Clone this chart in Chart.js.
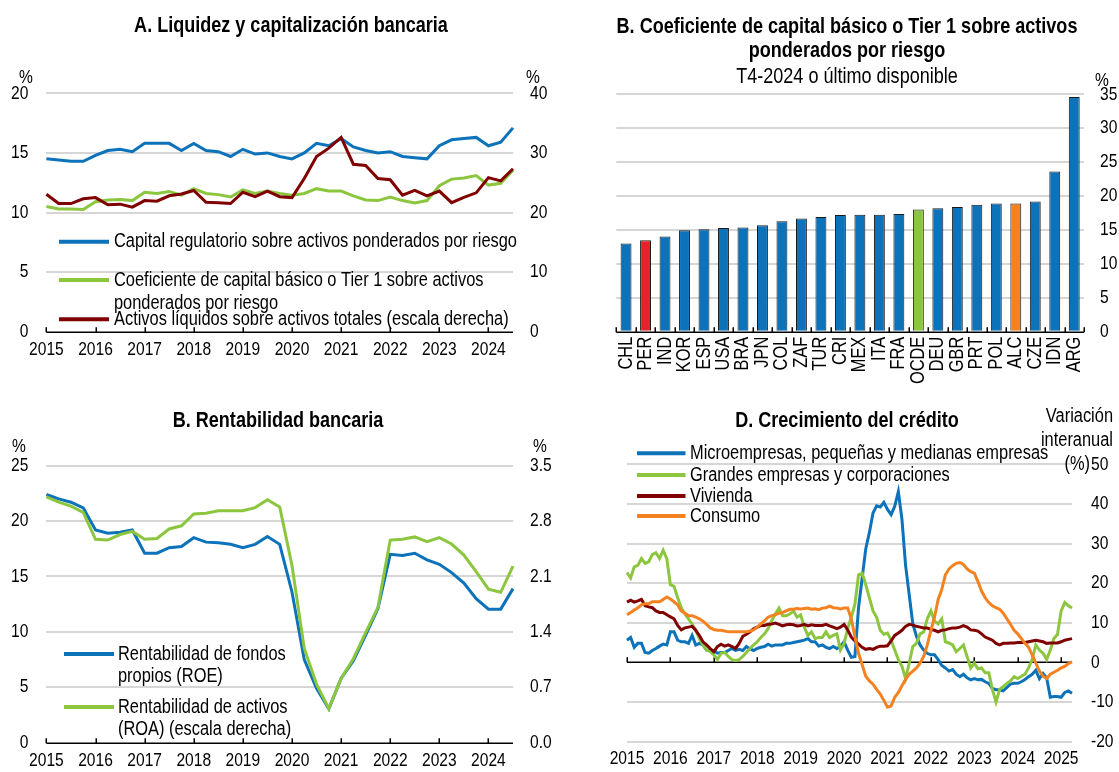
<!DOCTYPE html>
<html><head><meta charset="utf-8">
<script src="https://cdn.jsdelivr.net/npm/chart.js@4.4.1/dist/chart.umd.min.js"></script>
<style>
html,body{margin:0;padding:0;background:#fff;}
body{width:1119px;height:772px;position:relative;overflow:hidden;}
canvas{position:absolute;}
</style></head><body>
<canvas id="cA" width="560" height="386" style="left:0;top:0"></canvas>
<canvas id="cB" width="559" height="386" style="left:560px;top:0"></canvas>
<canvas id="cC" width="560" height="386" style="left:0;top:386px"></canvas>
<canvas id="cD" width="559" height="386" style="left:560px;top:386px"></canvas>
<script>
// ---------- DATA ----------
const years = ['2015','2016','2017','2018','2019','2020','2021','2022','2023','2024'];
const quarters = years.flatMap(y => ['T1','T2','T3','T4'].map(q => q + '-' + y)).slice(0, 39);

// Panel A
const legendA = [
  ['Capital regulatorio sobre activos ponderados por riesgo'],
  ['Coeficiente de capital básico o Tier 1 sobre activos', 'ponderados por riesgo'],
  ['Activos líquidos sobre activos totales (escala derecha)']
];
const capitalReg = [14.5,14.4,14.3,14.3,14.8,15.2,15.3,15.1,15.8,15.8,15.8,15.2,15.8,15.2,15.1,14.7,15.3,14.9,15.0,14.7,14.5,15.0,15.8,15.6,16.2,15.5,15.2,15.0,15.1,14.7,14.6,14.5,15.6,16.1,16.2,16.3,15.6,15.9,17.1];
const tier1 = [10.5,10.3,10.3,10.25,10.9,11.05,11.1,11.0,11.7,11.6,11.75,11.45,12.0,11.6,11.5,11.3,11.9,11.6,11.8,11.6,11.45,11.6,12.0,11.8,11.8,11.4,11.05,11.0,11.3,11.0,10.8,11.0,12.25,12.8,12.9,13.1,12.3,12.45,13.55];
const liquidAssets = [23.05,21.5,21.5,22.3,22.5,21.3,21.4,20.9,22.0,21.9,22.8,23.1,23.7,21.7,21.65,21.5,23.4,22.65,23.6,22.65,22.5,25.7,29.4,30.8,32.6,28.1,27.9,25.7,25.5,22.9,23.7,22.8,23.6,21.65,22.55,23.3,25.85,25.3,27.35];

// Panel B
const countries = ['CHL','PER','IND','KOR','ESP','USA','BRA','JPN','COL','ZAF','TUR','CRI','MEX','ITA','FRA','OCDE','DEU','GBR','PRT','POL','ALC','CZE','IDN','ARG'];
const tier1Country = [13.0,13.5,14.05,14.95,15.1,15.3,15.35,15.7,16.3,16.7,16.9,17.2,17.25,17.25,17.35,18.0,18.2,18.4,18.7,18.9,18.9,19.2,23.6,34.6];

// Panel C
const legendC = [
  ['Rentabilidad de fondos', 'propios (ROE)'],
  ['Rentabilidad de activos', '(ROA) (escala derecha)']
];
const roe = [22.4,22.0,21.7,21.2,19.2,18.9,19.0,19.2,17.1,17.1,17.6,17.7,18.5,18.1,18.05,17.9,17.6,17.9,18.6,17.9,13.6,7.5,4.9,3.05,5.8,7.4,9.7,12.1,17.0,16.9,17.1,16.5,16.1,15.35,14.4,13.0,12.05,12.05,13.9];
const roa = [3.105,3.04,2.99,2.91,2.57,2.56,2.63,2.67,2.57,2.58,2.70,2.74,2.89,2.90,2.93,2.93,2.93,2.97,3.07,2.98,2.24,1.19,0.74,0.43,0.81,1.06,1.39,1.71,2.56,2.57,2.60,2.54,2.59,2.51,2.37,2.16,1.94,1.90,2.23];

// Panel D
const yearsD = years.concat(['2025']);
const months = yearsD.flatMap(y => ['01','02','03','04','05','06','07','08','09','10','11','12'].map(m => y + '-' + m)).slice(0, 124);
const legendD = [
  ['Microempresas, pequeñas y medianas empresas'],
  ['Grandes empresas y corporaciones'],
  ['Vivienda'],
  ['Consumo']
];
const smeCredit = [5.6,6.3,3.8,4.8,4.8,2.5,2.3,3.0,3.5,4.1,4.6,4.4,
7.7,7.7,5.6,5.2,5.2,4.8,6.8,4.4,4.8,4.4,3.1,3.0,
3.0,2.3,2.5,2.5,3.0,3.5,3.0,3.3,3.0,4.0,3.4,3.0,
3.5,3.8,4.0,4.6,4.1,4.4,4.4,4.4,4.8,4.8,5.0,5.2,
5.4,5.6,6.0,5.2,5.2,4.1,4.4,3.8,3.5,4.0,3.5,4.0,
5.2,3.1,1.3,1.5,13.8,21.3,28.7,32.8,37.7,39.5,39.2,40.4,
38.6,37.3,39.4,43.1,36.1,24.5,17.1,9.7,6.6,4.4,3.1,2.3,
1.9,1.9,0.7,-0.8,-1.4,-2.2,-1.8,-3.0,-3.6,-3.0,-3.9,-4.4,
-4.1,-4.4,-4.3,-4.9,-5.3,-6.6,-6.9,-6.9,-7.2,-6.3,-5.5,-5.3,
-5.3,-4.9,-4.3,-3.6,-3.0,-2.0,-4.1,-2.8,-3.9,-8.8,-8.6,-8.6,
-8.8,-7.6,-7.2,-7.8];
const largeCredit = [22.7,21.3,24.1,24.5,26.2,25.0,25.4,27.2,27.7,26.2,28.3,26.2,
19.6,19.2,16.3,13.8,12.2,11.0,9.7,8.1,6.0,4.4,3.1,2.7,
1.9,0.7,2.3,2.5,1.5,0.7,0.5,0.7,1.5,2.5,3.5,4.4,
5.2,6.3,7.2,8.5,10.5,12.2,13.7,11.8,11.8,12.2,13.0,11.4,
12.0,8.9,6.8,7.7,6.0,6.3,6.3,7.7,6.3,6.8,7.2,3.1,
4.8,8.5,11.4,14.7,22.1,22.5,19.6,16.3,13.0,11.4,8.1,7.1,
7.4,5.6,3.1,0.7,-1.0,-4.1,-0.2,4.0,4.8,7.2,7.7,11.0,
13.0,10.4,9.7,11.0,5.2,4.9,4.4,2.7,3.5,4.4,1.5,-1.4,
-0.2,-1.6,-1.4,-2.6,-2.6,-6.8,-10.0,-6.8,-6.1,-5.3,-4.7,-3.6,
-4.1,-3.5,-3.0,-1.4,0.7,4.4,3.1,2.3,0.7,3.1,6.0,7.1,
13.0,15.1,14.3,13.7];
const housingCredit = [15.2,15.7,15.2,15.5,15.9,14.3,14.0,13.8,13.0,12.6,12.6,12.0,
11.5,11.0,9.3,8.2,8.7,8.9,9.1,8.1,6.8,5.2,4.4,3.5,
2.7,4.0,4.6,4.1,4.4,4.0,3.5,4.8,6.6,7.1,7.7,8.5,
8.9,9.3,9.3,9.6,9.7,9.9,9.6,9.2,9.5,9.6,9.5,9.2,
9.3,9.6,9.2,9.5,9.3,9.3,9.3,9.6,9.2,8.9,8.5,8.9,
9.6,8.2,6.4,5.4,4.6,3.8,3.3,3.5,3.3,3.8,4.1,4.1,
4.2,5.4,6.8,7.4,8.1,9.1,9.6,9.4,9.1,8.9,8.7,8.7,
8.3,8.1,7.7,8.1,8.2,8.5,8.7,8.7,8.9,9.3,8.9,8.2,
8.1,7.9,7.2,6.4,6.0,5.6,4.8,4.4,4.8,4.8,4.9,4.9,
5.0,5.0,5.0,5.2,5.4,5.6,5.4,5.2,4.8,4.9,4.9,4.9,
5.2,5.6,5.8,6.0];
const consumerCredit = [12.0,12.6,13.2,13.8,14.5,14.8,14.8,15.3,15.3,15.3,15.9,16.5,
16.0,15.3,14.5,13.0,12.4,11.8,11.8,11.4,11.0,10.4,9.6,8.7,
8.3,8.1,8.1,7.9,7.7,7.7,7.7,7.7,7.7,7.7,7.9,8.2,
8.9,9.7,10.5,11.4,11.8,12.0,12.4,12.6,13.0,13.4,13.4,13.6,
13.5,13.6,13.7,13.4,13.5,13.3,13.7,13.8,14.2,13.8,13.7,13.5,
13.7,13.7,11.0,6.4,2.3,-0.6,-3.5,-4.7,-5.5,-6.8,-8.0,-9.6,
-11.3,-11.0,-8.8,-7.6,-5.9,-4.3,-3.0,-2.2,-1.4,-0.2,1.5,4.4,
8.1,11.4,15.9,18.4,22.1,23.6,24.4,25.0,25.2,24.7,23.6,22.9,
22.5,20.4,18.0,16.3,15.1,14.3,13.8,13.4,12.4,11.0,9.6,8.1,
7.2,6.0,4.8,3.8,1.9,-0.2,-2.2,-3.5,-4.1,-3.0,-2.5,-2.0,
-1.4,-1.0,-0.3,0.1];

// ---------- STYLE ----------
const FONT = "'Liberation Sans',Arial,sans-serif";
const CONDENSE = 0.82; // Arial Narrow look: Liberation Sans drawn condensed horizontally
const BLUE = '#0C72BA', GREEN = '#8CC63F', DRED = '#800000', ORANGE = '#F58220', RED = '#E3252B';
const GRID = '#D6D6D6';
const TITLE = 22, LEG = 20;
Chart.defaults.font.family = FONT;
Chart.defaults.font.size = 19;
Chart.defaults.color = '#000';

function condense(canvas) {
  const ctx = canvas.getContext('2d');
  const fill = ctx.fillText.bind(ctx);
  const measure = ctx.measureText.bind(ctx);
  ctx.fillText = function (t, x, y, mw) {
    ctx.save(); ctx.translate(x, y); ctx.scale(CONDENSE, 1);
    if (mw === undefined) fill(t, 0, 0); else fill(t, 0, 0, mw / CONDENSE);
    ctx.restore();
  };
  ctx.measureText = function (t) {
    const m = measure(t);
    return { width: m.width * CONDENSE, actualBoundingBoxAscent: m.actualBoundingBoxAscent, actualBoundingBoxDescent: m.actualBoundingBoxDescent,
      actualBoundingBoxLeft: m.actualBoundingBoxLeft * CONDENSE, actualBoundingBoxRight: m.actualBoundingBoxRight * CONDENSE };
  };
  return canvas;
}

const textPlugin = {
  id: 'panelText',
  afterDraw(chart, args, o) {
    const ctx = chart.ctx; ctx.save();
    (o.items || []).forEach(it => {
      ctx.font = (it.bold ? 'bold ' : '') + (it.size || 19) + 'px ' + FONT;
      ctx.fillStyle = '#000'; ctx.textAlign = it.align || 'center'; ctx.textBaseline = 'middle';
      ctx.fillText(it.text, it.x, it.y);
    });
    ctx.restore();
  }
};
const legendPlugin = {
  id: 'lineLegend',
  afterDraw(chart, args, o) {
    if (!o.items) return;
    const ctx = chart.ctx; ctx.save();
    o.items.forEach(it => {
      const ds = chart.data.datasets[it.ds];
      ctx.strokeStyle = ds.borderColor; ctx.lineWidth = 4; ctx.lineCap = 'butt';
      ctx.beginPath(); ctx.moveTo(o.x1, it.y); ctx.lineTo(o.x2, it.y); ctx.stroke();
      ctx.font = (o.size || LEG) + 'px ' + FONT; ctx.fillStyle = '#000';
      ctx.textAlign = 'left'; ctx.textBaseline = 'middle';
      it.lines.forEach((ln, k) => ctx.fillText(ln, o.tx, it.y + k * o.lh));
    });
    ctx.restore();
  }
};
const axisPlugin = {
  id: 'axisMarks',
  beforeDatasetsDraw(chart, args, o) {
    const ctx = chart.ctx, a = chart.chartArea, xs = chart.scales.x, ys = chart.scales[o.yScale];
    const y = Math.round(ys.getPixelForValue(o.yValue)) + 0.25;
    ctx.save(); ctx.strokeStyle = '#000'; ctx.lineWidth = 1.5;
    ctx.beginPath(); ctx.moveTo(a.left, y); ctx.lineTo(a.right, y);
    let px;
    if (o.boundaries) {
      const n = chart.data.labels.length, w = (a.right - a.left) / n;
      px = []; for (let i = 0; i <= n; i++) px.push(a.left + i * w);
    } else {
      px = o.tickIndex.map(i => xs.getPixelForValue(i));
    }
    px.forEach(x => { x = Math.round(x) + 0.25; ctx.moveTo(x, y); ctx.lineTo(x, y - 5); });
    ctx.stroke(); ctx.restore();
  }
};
const gridOpts = { color: c => (c.tick && c.tick.value === 0) ? 'rgba(0,0,0,0)' : GRID, lineWidth: 2, drawTicks: false };
const noGrid = { display: false, drawTicks: false };
const base = (pad) => ({
  responsive: false, animation: false,
  layout: { padding: pad },
  elements: { line: { borderWidth: 3, tension: 0 }, point: { radius: 0 } },
});
const yearTickIdxQ = quarters.map((q, i) => q.startsWith('T1') ? i : -1).filter(i => i >= 0);
const yearTickIdxM = months.map((m, i) => m.endsWith('-01') ? i : -1).filter(i => i >= 0);
const xQuarter = (h, pad) => ({
  grid: noGrid, border: { display: false },
  ticks: { autoSkip: false, maxRotation: 0, minRotation: 0, padding: pad,
    callback: (v, i) => quarters[i].startsWith('T1') ? quarters[i].slice(3) : '' },
  afterFit: s => { s.height = h; }
});

// ---------- PANEL A ----------
new Chart(condense(document.getElementById('cA')), {
  type: 'line',
  data: { labels: quarters, datasets: [
    { label: legendA[0].join(' '), data: capitalReg, borderColor: BLUE, yAxisID: 'y', order: 2 },
    { label: legendA[1].join(' '), data: tier1, borderColor: GREEN, yAxisID: 'y', order: 1 },
    { label: legendA[2].join(' '), data: liquidAssets, borderColor: DRED, yAxisID: 'y1', order: 0 }
  ]},
  options: Object.assign(base({ top: 93.3, left: 0, right: 0, bottom: 0 }), {
    scales: {
      x: xQuarter(54.3, 7),
      y: { position: 'left', min: 0, max: 20, ticks: { stepSize: 5, padding: 18 }, grid: gridOpts, border: { display: false }, afterFit: s => { s.width = 46.4; } },
      y1: { position: 'right', min: 0, max: 40, ticks: { stepSize: 10, padding: 17 }, grid: noGrid, border: { display: false }, afterFit: s => { s.width = 47; } }
    },
    plugins: {
      legend: { display: false }, tooltip: { enabled: false },
      panelText: { items: [
        { text: 'A. Liquidez y capitalización bancaria', x: 291, y: 26, bold: true, size: TITLE },
        { text: '%', x: 26, y: 78 }, { text: '%', x: 533, y: 78 }
      ]},
      lineLegend: { x1: 59, x2: 109, tx: 114, lh: 23.3, items: [
        { ds: 0, y: 241.7, lines: legendA[0] }, { ds: 1, y: 280, lines: legendA[1] }, { ds: 2, y: 319.3, lines: legendA[2] }
      ]},
      axisMarks: { yScale: 'y', yValue: 0, tickIndex: yearTickIdxQ }
    }
  }),
  plugins: [textPlugin, legendPlugin, axisPlugin]
});

// ---------- PANEL B ----------
const highlight = { PER: RED, OCDE: GREEN, ALC: ORANGE };
new Chart(condense(document.getElementById('cB')), {
  type: 'bar',
  data: { labels: countries, datasets: [
    { label: 'Coeficiente de capital básico o Tier 1 sobre activos ponderados por riesgo', data: tier1Country,
      backgroundColor: countries.map(c => highlight[c] || BLUE), borderColor: '#1A1A1A', borderWidth: 1,
      barPercentage: 0.56, categoryPercentage: 1.0 }
  ]},
  options: Object.assign(base({ top: 94.3, left: 56.3, right: 0, bottom: 0 }), {
    scales: {
      x: { grid: noGrid, border: { display: false },
        ticks: { autoSkip: false, minRotation: 90, maxRotation: 90, padding: 5, font: { size: 20 } },
        afterFit: s => { s.height = 54.3; } },
      y: { position: 'right', min: 0, max: 35, ticks: { stepSize: 5, padding: 16 }, grid: gridOpts, border: { display: false }, afterFit: s => { s.width = 35; } }
    },
    plugins: {
      legend: { display: false }, tooltip: { enabled: false },
      panelText: { items: [
        { text: 'B. Coeficiente de capital básico o Tier 1 sobre activos', x: 287, y: 27, bold: true, size: TITLE },
        { text: 'ponderados por riesgo', x: 287, y: 51, bold: true, size: TITLE },
        { text: 'T4-2024 o último disponible', x: 287, y: 77, size: TITLE },
        { text: '%', x: 542, y: 81 }
      ]},
      axisMarks: { yScale: 'y', yValue: 0, boundaries: true }
    }
  }),
  plugins: [textPlugin, axisPlugin]
});

// ---------- PANEL C ----------
new Chart(condense(document.getElementById('cC')), {
  type: 'line',
  data: { labels: quarters, datasets: [
    { label: legendC[0].join(' '), data: roe, borderColor: BLUE, yAxisID: 'y', order: 1 },
    { label: legendC[1].join(' '), data: roa, borderColor: GREEN, yAxisID: 'y1', order: 0 }
  ]},
  options: Object.assign(base({ top: 79.7, left: 0, right: 0, bottom: 0 }), {
    scales: {
      x: xQuarter(25.3, 7),
      y: { position: 'left', min: 0, max: 25, ticks: { stepSize: 5, padding: 18 }, grid: gridOpts, border: { display: false }, afterFit: s => { s.width = 46.4; } },
      y1: { position: 'right', min: 0, max: 3.5, ticks: { stepSize: 0.7, padding: 17, callback: v => Number(v).toFixed(1) }, grid: noGrid, border: { display: false }, afterFit: s => { s.width = 47; } }
    },
    plugins: {
      legend: { display: false }, tooltip: { enabled: false },
      panelText: { items: [
        { text: 'B. Rentabilidad bancaria', x: 278, y: 35, bold: true, size: TITLE },
        { text: '%', x: 19, y: 61 }, { text: '%', x: 540, y: 61 }
      ]},
      lineLegend: { x1: 64, x2: 114, tx: 118, lh: 22.5, items: [
        { ds: 0, y: 268, lines: legendC[0] }, { ds: 1, y: 321, lines: legendC[1] }
      ]},
      axisMarks: { yScale: 'y', yValue: 0, tickIndex: yearTickIdxQ }
    }
  }),
  plugins: [textPlugin, legendPlugin, axisPlugin]
});

// ---------- PANEL D ----------
new Chart(condense(document.getElementById('cD')), {
  type: 'line',
  data: { labels: months, datasets: [
    { label: legendD[0].join(' '), data: smeCredit, borderColor: BLUE, order: 3 },
    { label: legendD[1].join(' '), data: largeCredit, borderColor: GREEN, order: 2 },
    { label: legendD[2].join(' '), data: housingCredit, borderColor: DRED, order: 1 },
    { label: legendD[3].join(' '), data: consumerCredit, borderColor: ORANGE, order: 0 }
  ]},
  options: Object.assign(base({ top: 78.3, left: 67, right: 0, bottom: 0 }), {
    scales: {
      x: { grid: noGrid, border: { display: false },
        ticks: { autoSkip: false, maxRotation: 0, minRotation: 0, padding: 6,
          callback: (v, i) => months[i].endsWith('-01') ? months[i].slice(0, 4) : '' },
        afterFit: s => { s.height = 24.3; } },
      y: { position: 'right', min: -20, max: 50, ticks: { stepSize: 10, padding: 19 }, grid: gridOpts, border: { display: false }, afterFit: s => { s.width = 47; } }
    },
    plugins: {
      legend: { display: false }, tooltip: { enabled: false },
      panelText: { items: [
        { text: 'D. Crecimiento del crédito', x: 287, y: 34.7, bold: true, size: TITLE },
        { text: 'Variación', x: 553, y: 30.7, align: 'right', size: 20 },
        { text: 'interanual', x: 553, y: 54, align: 'right', size: 20 },
        { text: '(%)', x: 530, y: 78, align: 'right', size: 20 }
      ]},
      lineLegend: { x1: 77, x2: 125.5, tx: 130, lh: 21, items: [
        { ds: 0, y: 67.3, lines: legendD[0] }, { ds: 1, y: 89, lines: legendD[1] },
        { ds: 2, y: 110, lines: legendD[2] }, { ds: 3, y: 130, lines: legendD[3] }
      ]},
      axisMarks: { yScale: 'y', yValue: 0, tickIndex: yearTickIdxM }
    }
  }),
  plugins: [textPlugin, legendPlugin, axisPlugin]
});
</script>
</body></html>
